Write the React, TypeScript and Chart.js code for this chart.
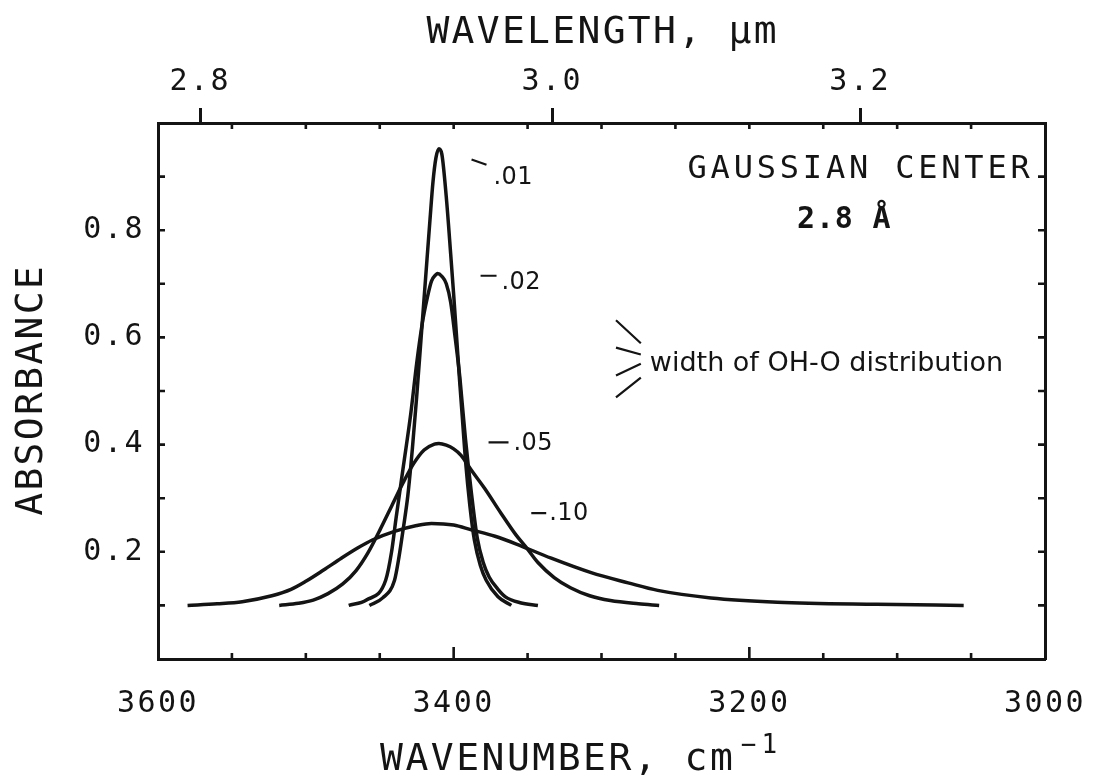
import React, { useEffect, useRef } from 'react';
import { Chart, registerables } from 'chart.js';

Chart.register(...registerables);

const INK = '#141414';
const MONO = '"DejaVu Sans Mono", monospace';
const SANS = '"DejaVu Sans", sans-serif';

// ---- tick labels ----
const xTickLabels = [3600, 3400, 3200, 3000];
const yTickLabels = [0.2, 0.4, 0.6, 0.8];
const topTickLabels = [2.8, 3.0, 3.2];
const widthLabels = ['.01', '.02', '.05', '.10'];

// ---- series (wavenumber cm-1, absorbance) ----
const wn01 = [3457, 3448, 3440, 3437, 3434, 3431, 3428, 3425, 3422, 3419, 3416, 3414, 3412, 3410, 3408, 3405, 3402, 3400, 3398, 3396, 3394, 3392, 3389, 3386, 3382, 3378, 3370, 3361];
const abs01 = [0.100, 0.114, 0.147, 0.190, 0.245, 0.305, 0.390, 0.490, 0.600, 0.710, 0.820, 0.890, 0.935, 0.952, 0.942, 0.862, 0.755, 0.680, 0.600, 0.520, 0.445, 0.370, 0.285, 0.222, 0.175, 0.147, 0.116, 0.100];

const wn02 = [3471, 3459, 3446, 3442, 3439, 3434, 3429, 3425, 3421, 3418, 3415, 3412, 3411, 3408, 3405, 3402, 3399, 3396, 3394, 3392, 3388, 3384, 3380, 3376, 3370, 3365, 3355, 3343];
const abs02 = [0.100, 0.110, 0.147, 0.200, 0.262, 0.360, 0.458, 0.552, 0.630, 0.672, 0.705, 0.717, 0.719, 0.714, 0.700, 0.665, 0.600, 0.530, 0.470, 0.410, 0.310, 0.225, 0.180, 0.153, 0.130, 0.116, 0.105, 0.100];

const wn05 = [3518, 3505, 3495, 3485, 3475, 3466, 3458, 3450, 3442, 3434, 3427, 3420, 3413, 3410, 3405, 3400, 3395, 3388, 3379, 3368, 3358, 3350, 3343, 3332, 3321, 3308, 3294, 3275, 3261];
const abs05 = [0.100, 0.104, 0.110, 0.122, 0.140, 0.165, 0.198, 0.240, 0.285, 0.330, 0.365, 0.390, 0.401, 0.402, 0.399, 0.392, 0.380, 0.352, 0.318, 0.272, 0.232, 0.205, 0.180, 0.152, 0.133, 0.118, 0.109, 0.103, 0.100];

const wn10 = [3580, 3560, 3543, 3523, 3510, 3500, 3488, 3476, 3465, 3455, 3440, 3425, 3415, 3400, 3388, 3372, 3358, 3334, 3307, 3282, 3262, 3226, 3181, 3114, 3055];
const abs10 = [0.100, 0.103, 0.107, 0.118, 0.130, 0.145, 0.166, 0.188, 0.207, 0.222, 0.238, 0.249, 0.253, 0.250, 0.241, 0.229, 0.215, 0.188, 0.161, 0.142, 0.128, 0.114, 0.106, 0.102, 0.100];

const seriesWn = [wn01, wn02, wn05, wn10];
const seriesAbs = [abs01, abs02, abs05, abs10];

// ---- annotation anchors in data units (wavenumber, absorbance) ----
const labelAnchors = [
  [3373.1, 0.887],
  [3367.7, 0.691],
  [3359.6, 0.389],
  [3335.4, 0.259],
];
const leaderMarks = [
  [[3387.9, 0.932], [3377.8, 0.922]],
  [[3381.8, 0.715], [3371.0, 0.715]],
  [[3376.4, 0.404], [3362.9, 0.404]],
  [[3347.5, 0.272], [3337.4, 0.272]],
];
const fanMarks = [
  [[3290.2, 0.632], [3273.4, 0.589]],
  [[3290.2, 0.581], [3273.4, 0.568]],
  [[3290.2, 0.529], [3273.4, 0.551]],
  [[3290.2, 0.488], [3273.4, 0.525]],
];
const fanText = { text: 'width of OH-O distribution', at: [3267.3, 0.538] };
const centerText = { line1: 'GAUSSIAN CENTER', at1: [3241.8, 0.898], line2: '2.8 Å', at2: [3167.7, 0.805] };

function drawSpaced(ctx, text, x, y, font, ls, align = 'left', baseline = 'alphabetic') {
  ctx.save();
  ctx.font = font;
  ctx.letterSpacing = ls + 'px';
  ctx.textBaseline = baseline;
  ctx.textAlign = 'left';
  const w = ctx.measureText(text).width - ls;
  let sx = x;
  if (align === 'center') sx = x - w / 2;
  else if (align === 'right') sx = x - w;
  ctx.fillStyle = INK;
  ctx.fillText(text, sx, y);
  ctx.restore();
  return sx + w;
}

const tickSpacingPlugin = {
  id: 'tickSpacing',
  beforeDraw(chart) {
    chart.ctx.letterSpacing = '2.5px';
  },
  afterDraw(chart) {
    chart.ctx.letterSpacing = '0px';
  },
};

const framePlugin = {
  id: 'frameDecor',
  afterDatasetsDraw(chart) {
    const { ctx, chartArea: a, scales } = chart;
    const xs = scales.x;
    const ys = scales.y;
    ctx.save();
    ctx.letterSpacing = '0px';
    ctx.strokeStyle = INK;
    ctx.lineWidth = 2.6;
    ctx.lineCap = 'butt';
    ctx.beginPath();
    xs.ticks.forEach((t) => {
      const px = xs.getPixelForValue(t.value);
      if (px <= a.left + 2 || px >= a.right - 2) return;
      const major = xTickLabels.includes(t.value);
      ctx.moveTo(px, a.bottom);
      ctx.lineTo(px, a.bottom - (major ? 12 : 6));
      ctx.moveTo(px, a.top);
      ctx.lineTo(px, a.top + 6);
    });
    ys.ticks.forEach((t) => {
      const py = ys.getPixelForValue(t.value);
      if (py <= a.top + 2 || py >= a.bottom - 2) return;
      ctx.moveTo(a.left, py);
      ctx.lineTo(a.left + 7, py);
      ctx.moveTo(a.right, py);
      ctx.lineTo(a.right - 7, py);
    });
    ctx.stroke();

    // leader marks and fan lines
    ctx.lineWidth = 2.2;
    ctx.beginPath();
    [...leaderMarks, ...fanMarks].forEach(([p, q]) => {
      ctx.moveTo(xs.getPixelForValue(p[0]), ys.getPixelForValue(p[1]));
      ctx.lineTo(xs.getPixelForValue(q[0]), ys.getPixelForValue(q[1]));
    });
    ctx.stroke();
    ctx.restore();

    // width labels
    widthLabels.forEach((lab, i) => {
      const [w, v] = labelAnchors[i];
      drawSpaced(ctx, lab, xs.getPixelForValue(w), ys.getPixelForValue(v), `24px ${SANS}`, 0.5);
    });
    drawSpaced(ctx, fanText.text, xs.getPixelForValue(fanText.at[0]), ys.getPixelForValue(fanText.at[1]), `27px ${SANS}`, 0);
    drawSpaced(ctx, centerText.line1, xs.getPixelForValue(centerText.at1[0]), ys.getPixelForValue(centerText.at1[1]), `32px ${MONO}`, 3.8);
    drawSpaced(ctx, centerText.line2, xs.getPixelForValue(centerText.at2[0]), ys.getPixelForValue(centerText.at2[1]), `bold 30px ${MONO}`, 0.8);

    // axis titles
    const cx = (a.left + a.right) / 2;
    drawSpaced(ctx, 'WAVELENGTH, µm', cx, a.top - 80, `38px ${MONO}`, 2.3, 'center');
    const end = drawSpaced(ctx, 'WAVENUMBER, cm', a.left + 222, a.bottom + 111, `38px ${MONO}`, 2.5);
    drawSpaced(ctx, '−1', end + 8, a.bottom + 94, `26px ${MONO}`, 5);
    ctx.save();
    ctx.translate(a.left - 116, (a.top + a.bottom) / 2);
    ctx.rotate(-Math.PI / 2);
    drawSpaced(ctx, 'ABSORBANCE', 0, 0, `38px ${MONO}`, 2.3, 'center');
    ctx.restore();
  },
};

function noSidePadding(s, h) {
  s.height = h;
  s.paddingLeft = 0;
  s.paddingRight = 0;
}

export default function App() {
  const ref = useRef(null);
  useEffect(() => {
    const datasets = seriesWn.map((wns, i) => ({
      label: widthLabels[i],
      data: wns.map((w, j) => ({ x: w, y: seriesAbs[i][j] })),
      showLine: true,
      borderColor: INK,
      borderWidth: 3.5,
      pointRadius: 0,
      fill: false,
      cubicInterpolationMode: 'monotone',
    }));
    const tickFont = { family: MONO, size: 30 };
    const chart = new Chart(ref.current, {
      type: 'scatter',
      data: { datasets },
      options: {
        animation: false,
        responsive: false,
        events: [],
        layout: { padding: 0 },
        plugins: { legend: { display: false }, tooltip: { enabled: false }, title: { display: false } },
        scales: {
          x: {
            type: 'linear',
            position: 'bottom',
            min: 3000,
            max: 3600,
            reverse: true,
            grid: { display: false, drawTicks: false },
            border: { display: true, color: INK, width: 3 },
            ticks: {
              stepSize: 50,
              autoSkip: false,
              maxRotation: 0,
              minRotation: 0,
              padding: 27,
              color: INK,
              font: tickFont,
              callback: (v) => (xTickLabels.includes(v) ? String(v) : ''),
            },
            afterFit: (s) => noSidePadding(s, 121),
          },
          x2: {
            type: 'linear',
            axis: 'x',
            position: 'top',
            min: 3000,
            max: 3600,
            reverse: true,
            grid: { display: true, drawOnChartArea: false, drawTicks: true, tickLength: 15, color: INK, lineWidth: 3 },
            border: { display: true, color: INK, width: 3 },
            afterBuildTicks: (s) => { s.ticks = topTickLabels.map((w) => ({ value: 10000 / w })); },
            ticks: {
              autoSkip: false,
              maxRotation: 0,
              minRotation: 0,
              padding: 8,
              color: INK,
              font: tickFont,
              callback: (v) => (10000 / v).toFixed(1),
            },
            afterFit: (s) => noSidePadding(s, 123),
          },
          y: {
            type: 'linear',
            position: 'left',
            min: 0,
            max: 1.0,
            grid: { display: false, drawTicks: false },
            border: { display: true, color: INK, width: 3 },
            ticks: {
              stepSize: 0.1,
              autoSkip: false,
              padding: 13,
              color: INK,
              font: tickFont,
              callback: (v) => {
                const hit = yTickLabels.find((t) => Math.abs(t - v) < 1e-6);
                return hit !== undefined ? hit.toFixed(1) : '';
              },
            },
            afterFit: (s) => { s.width = 158; s.paddingTop = 0; s.paddingBottom = 0; },
          },
          yR: {
            type: 'linear',
            axis: 'y',
            position: 'right',
            min: 0,
            max: 1.0,
            grid: { display: false, drawTicks: false },
            border: { display: true, color: INK, width: 3 },
            ticks: { display: false, stepSize: 0.1 },
            afterFit: (s) => { s.width = 48; s.paddingTop = 0; s.paddingBottom = 0; },
          },
        },
      },
      plugins: [tickSpacingPlugin, framePlugin],
    });
    return () => chart.destroy();
  }, []);

  return (
    <div style={{ position: 'absolute', left: 0, top: 0, width: 1093, height: 780, background: '#fff' }}>
      <canvas ref={ref} width={1093} height={780} style={{ display: 'block', width: 1093, height: 780 }} />
    </div>
  );
}
